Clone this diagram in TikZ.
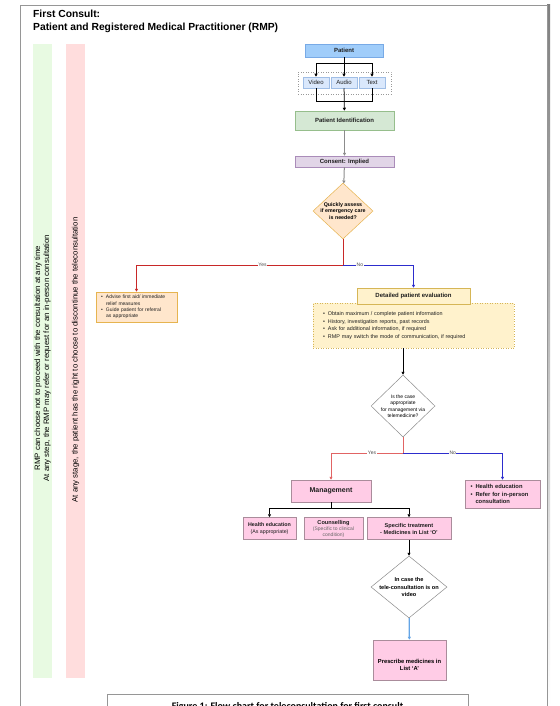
\documentclass[tikz,border=0pt]{standalone}
\usepackage{fontspec}
\setmainfont{Liberation Sans}
\newfontfamily\capfont{Carlito}
\usetikzlibrary{arrows.meta,shapes.geometric}
\definecolor{patblue}{RGB}{160,205,250}
\definecolor{patblueb}{RGB}{120,170,230}
\definecolor{modefill}{RGB}{218,232,252}
\definecolor{modeline}{RGB}{160,190,230}
\definecolor{gfill}{RGB}{213,232,212}
\definecolor{gline}{RGB}{150,190,140}
\definecolor{pfill}{RGB}{225,213,231}
\definecolor{pline}{RGB}{170,140,185}
\definecolor{ofill}{RGB}{255,230,204}
\definecolor{oline}{RGB}{230,180,80}
\definecolor{yfill}{RGB}{255,242,204}
\definecolor{yline}{RGB}{214,182,86}
\definecolor{kfill}{RGB}{255,204,230}
\definecolor{kline}{RGB}{170,140,155}
\definecolor{stripg}{RGB}{232,250,226}
\definecolor{stripp}{RGB}{255,221,221}
\definecolor{redl}{RGB}{200,40,40}
\definecolor{redl2}{RGB}{225,100,100}
\definecolor{bluel}{RGB}{45,45,205}
\definecolor{lblue}{RGB}{100,165,230}
\definecolor{frame}{RGB}{150,150,150}
\definecolor{shade}{RGB}{225,225,225}
\definecolor{txtc}{RGB}{30,30,30}
\newcommand{\bitm}[1]{\makebox[5pt][l]{\textbullet}#1}
\newcommand{\bind}{\hspace*{5pt}}
\begin{document}
\begin{tikzpicture}[x=1pt,y=-1pt,
  base/.style={draw, inner sep=0pt, align=center, line width=0.5pt, text=txtc},
  ff/.style={font=\fontsize{6}{7.2}\selectfont},
  ffb/.style={font=\fontsize{6}{7.2}\selectfont\bfseries},
  arr/.style={-{Triangle[length=3pt,width=3pt]}},
  lbl/.style={fill=white, inner sep=0.5pt, font=\fontsize{5}{6}\selectfont, text=black!70},
  conn/.style={line width=0.5pt},
  cconn/.style={line width=0.75pt}
]
\useasboundingbox (0,0) rectangle (559,706);
\fill[white] (0,0) rectangle (559,706);
% page frame
\fill[shade] (547,5) rectangle (550,706);
\draw[frame, line width=0.6pt] (20,706) -- (20,5) -- (547,5) -- (547,706);
% title
\node[anchor=west, inner sep=0, font=\fontsize{10.3}{12}\selectfont\bfseries] (t1) at (33,14) {First Consult:};
\node[anchor=west, inner sep=0, font=\fontsize{10.3}{12}\selectfont\bfseries] (t2) at (33,28) {Patient and Registered Medical Practitioner (RMP)};
% strips
\fill[stripg] (33,44) rectangle (52,678);
\fill[stripp] (66,44) rectangle (85,678);
\node[rotate=90, align=center, inner sep=0, font=\fontsize{7.8}{9}\selectfont] (sg) at (42.5,358) {RMP can choose not to proceed with the consultation at any time\\At any step, the RMP may refer or request for an in-person consultation};
\node[rotate=90, inner sep=0, font=\fontsize{7.8}{9}\selectfont] (sp) at (75.5,360) {At any stage, the patient has the right to choose to discontinue the teleconsultation};
% top part
\node[base, ffb, fill=patblue, draw=patblueb, minimum width=78pt, minimum height=13pt] (pat) at (344,50.5) {Patient};
\node[draw=black!40, dotted, line width=0.5pt, minimum width=93pt, minimum height=22pt, inner sep=0] (grp) at (344.5,83) {};
\node[base, ff, fill=modefill, draw=modeline, minimum width=26pt, minimum height=11pt] (vid) at (316,82.5) {Video};
\node[base, ff, fill=modefill, draw=modeline, minimum width=26pt, minimum height=11pt] (aud) at (344,82.5) {Audio};
\node[base, ff, fill=modefill, draw=modeline, minimum width=26pt, minimum height=11pt] (txt) at (372,82.5) {Text};
\node[base, ffb, fill=gfill, draw=gline, minimum width=99pt, minimum height=19pt] (pid) at (344.5,120.5) {Patient Identification};
\node[base, ffb, fill=pfill, draw=pline, minimum width=99pt, minimum height=11pt] (cons) at (344.5,161.5) {Consent: Implied};
\coordinate (h1) at (344,63);
\coordinate (h2) at (344,101);
\draw[cconn] (pat) -- (h1);
\draw[cconn,arr] (h1) -| (vid);
\draw[cconn,arr] (h1) -- (aud);
\draw[cconn,arr] (h1) -| (txt);
\draw[cconn] (vid) |- (h2);
\draw[cconn] (txt) |- (h2);
\draw[cconn,arr] (aud) -- (pid);
\draw[conn,arr,black!45] (pid) -- (cons);
% diamond 1
\node[diamond, draw=oline, fill=ofill, line width=0.5pt, minimum width=60pt, minimum height=56pt, inner sep=0, aspect=1.07] (d1) at (343,211) {};
\node[align=center, inner sep=0, font=\fontsize{5.3}{6.8}\selectfont\bfseries] (d1t) at (343,211) {Quickly assess\\if emergency care\\is needed?};
\draw[line width=1pt, black!45, arr] (cons) -- (d1);
% left box
\node[base, fill=ofill, draw=oline, minimum width=81pt, minimum height=30pt, text width=71pt, align=left, font=\fontsize{5}{6.2}\selectfont] (lbox) at (136.5,307) {\bitm{Advise first aid/ immediate}\\\bind relief measures\\\bitm{Guide patient for referral}\\\bind as appropriate};
% detailed evaluation
\node[base, fill=yfill, draw=yline, dotted, minimum width=201pt, minimum height=45pt, text width=181pt, align=left, font=\fontsize{5.4}{7.5}\selectfont] (dbox) at (413.5,325.5) {\bitm{Obtain maximum / complete patient information}\\\bitm{History, investigation reports, past records}\\\bitm{Ask for additional information, if required}\\\bitm{RMP may switch the mode of communication, if required}};
\node[base, ffb, fill=yfill, draw=yline, minimum width=113pt, minimum height=16pt] (deval) at (413.5,296) {Detailed patient evaluation};
\coordinate (j1) at (343,265);
\draw[cconn, redl] (d1) -- (j1);
\draw[cconn, redl, arr] (j1) -| node[lbl, pos=0.195] {Yes} (lbox);
\draw[cconn, bluel, arr] (j1) -| node[lbl, pos=0.12] {No} (deval);
% diamond 2
\node[diamond, draw=black!45, fill=white, line width=0.5pt, minimum width=64pt, minimum height=62pt, inner sep=0] (d2) at (403,406) {};
\node[align=center, inner sep=0, font=\fontsize{5}{6.5}\selectfont] (d2t) at (403,406) {Is the case\\appropriate\\for management via\\telemedicine?};
\draw[cconn, arr] (dbox.south -| d2.north) -- (d2.north);
\coordinate (j2) at (403,453);
\node[base, fill=kfill, draw=kline, minimum width=80pt, minimum height=22pt, font=\fontsize{7}{8}\selectfont\bfseries] (mgmt) at (331,491) {Management};
\node[base, fill=kfill, draw=kline, minimum width=75pt, minimum height=28pt, text width=64pt, align=left, font=\fontsize{5.8}{7.5}\selectfont\bfseries] (rbox) at (502.5,494) {\bitm{Health education}\\\bitm{Refer for in-person}\\\bind consultation};
\draw[cconn, redl2] (d2) -- (j2);
\draw[cconn, redl2, arr] (j2) -| node[lbl, pos=0.215] {Yes} (mgmt);
\draw[cconn, bluel, arr] (j2) -| node[lbl, pos=0.25] {No} (rbox);
% management children
\node[base, fill=kfill, draw=kline, minimum width=53pt, minimum height=22pt, font=\fontsize{5.3}{6.5}\selectfont] (he) at (269.5,528.5) {\textbf{Health education}\\(As appropriate)};
\node[base, fill=kfill, draw=kline, minimum width=59pt, minimum height=22pt, font=\fontsize{5}{6}\selectfont] (cou) at (333.5,528.5) {\textbf{\fontsize{5.6}{6.5}\selectfont Counselling}\\{\color{black!60}(Specific to clinical}\\{\color{black!60}condition)}};
\node[base, fill=kfill, draw=kline, minimum width=84pt, minimum height=22pt, font=\fontsize{5.6}{7}\selectfont\bfseries] (st) at (409,528.5) {Specific treatment\\- Medicines in List `O'};
\coordinate (j3) at (331,508);
\draw[cconn] (mgmt) -- (j3);
\draw[cconn, arr] (j3) -| (he);
\draw[cconn] (j3) -- (cou.north |- j3);
\draw[cconn, arr] (j3) -| (st);
% diamond 3
\node[diamond, draw=black!45, fill=white, line width=0.5pt, minimum width=76pt, minimum height=62pt, inner sep=0] (d3) at (409,587) {};
\node[align=center, inner sep=0, font=\fontsize{5.6}{7.2}\selectfont\bfseries] (d3t) at (409,587) {In case the\\tele-consultation is on\\video};
\draw[cconn, arr] (st) -- (d3);
\node[base, fill=kfill, draw=kline, minimum width=73pt, minimum height=40pt] (pre) at (409.5,660) {};
\node[align=center, inner sep=0, font=\fontsize{5.8}{7}\selectfont\bfseries] (pret) at (409.5,665) {Prescribe medicines in\\List `A'};
\draw[line width=1.2pt, lblue, arr] (d3) -- (pre);
% caption
\draw[frame, line width=0.6pt] (107,706) -- (107,694) -- (468,694) -- (468,706);
\node[anchor=base, inner sep=0, font=\capfont\fontsize{10}{12}\selectfont\bfseries] (cap) at (287.5,709) {Figure 1: Flow chart for teleconsultation for first consult};
\end{tikzpicture}
\end{document}
